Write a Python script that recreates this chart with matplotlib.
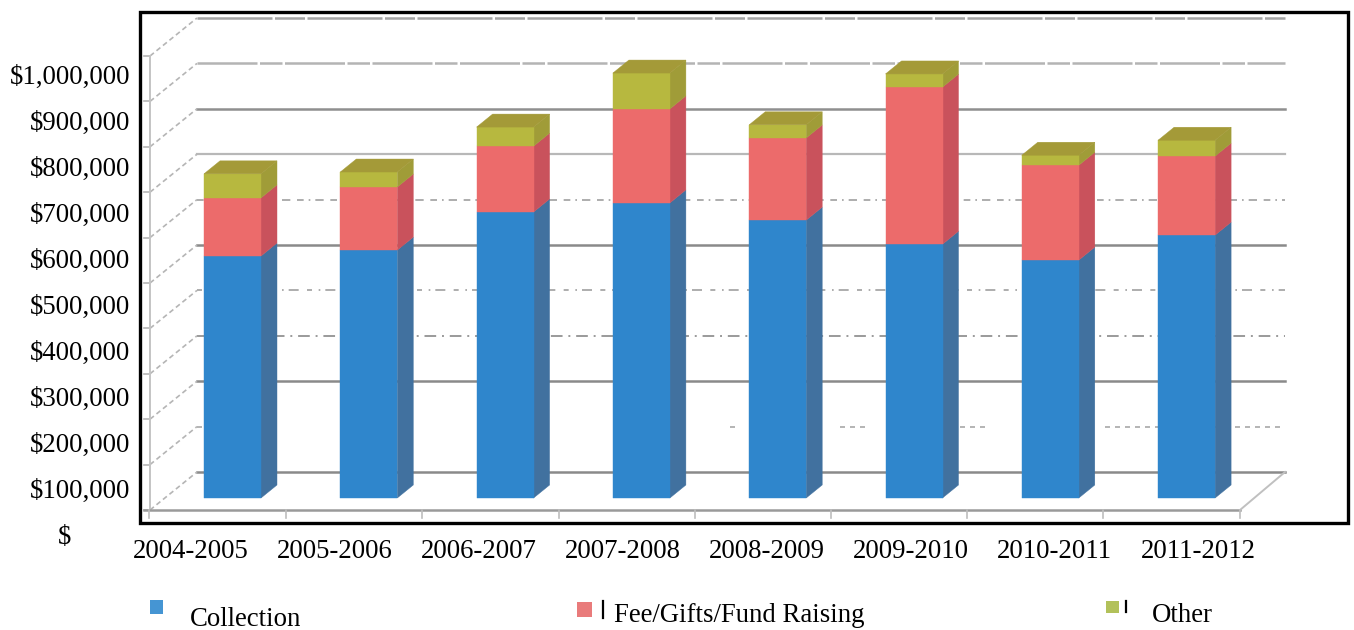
import matplotlib
matplotlib.use("Agg")
import matplotlib.pyplot as plt
from matplotlib.patches import Polygon, Rectangle

plt.rcParams['font.family'] = ['Liberation Serif', 'DejaVu Serif']

# === Data ===
years = ["2004-2005", "2005-2006", "2006-2007", "2007-2008",
         "2008-2009", "2009-2010", "2010-2011", "2011-2012"]
collection = [533000, 546000, 630000, 650000, 612000, 559000, 524000, 579000]
fees = [128000, 139000, 145000, 207000, 181000, 346000, 209000, 174000]
other = [53000, 33000, 42000, 79000, 29000, 29000, 22000, 35000]
value_labels = ["$", "$100,000", "$200,000", "$300,000", "$400,000", "$500,000",
                "$600,000", "$700,000", "$800,000", "$900,000", "$1,000,000"]
grid_levels = list(range(0, 1100000, 100000))
legend_names = ["Collection", "Fee/Gifts/Fund Raising", "Other"]

# === Colours ===
front = ["#2f86cc", "#ec6b6b", "#b7b83f"]
side = ["#41719f", "#c9525c", "#a09c38"]
top_colour = "#a49a38"
legend_colours = ["#4595d3", "#e97b7b", "#b2c15a"]

# === Geometry, in picture pixels ===
W, H = 1354, 630
PX_PER_VALUE = 45.4 / 100000
BASE_Y = 498       # where a value of 0 sits on the bars' front face
BAR_STEP = 136.3
BAR_LEFT = 204
BAR_W = 57
DEPTH_X, DEPTH_Y = 16, 13


# x is in category units and y in dollars, so the figure-wide axes does the scaling
def px_x(px):
    return (px - BAR_LEFT - BAR_W / 2) / BAR_STEP


def px_y(py):
    return (BASE_Y - py) / PX_PER_VALUE


fig = plt.figure(figsize=(W / 100, H / 100), dpi=100)
ax = fig.add_axes([0, 0, 1, 1])
ax.set_xlim(px_x(0), px_x(W))
ax.set_ylim(px_y(H), px_y(0))
ax.axis("off")

half_w = BAR_W / 2 / BAR_STEP
dx = DEPTH_X / BAR_STEP
dy = DEPTH_Y / PX_PER_VALUE
font = 19.3

# === Outer frame ===
ax.add_patch(Rectangle((px_x(140), px_y(523)), px_x(1348) - px_x(140), px_y(12) - px_y(523),
                       fill=False, ec="black", lw=2.4, zorder=6))

# === Walls and floor ===
WALL_X, WALL_Y0 = 150, 510
BACK_X, BACK_Y0, BACK_END = 197, 472, 1285
FRONT_END = 1240
# the scan left the back gridlines patchy, so each level gets its own look
grid_colour = ["#8a8a8a", "#a8a8a8", "#8a8a8a", "#9a9a9a", "#a0a0a0", "#8a8a8a",
               "#a0a0a0", "#b8b8b8", "#8f8f8f", "#b4b4b4", "#a4a4a4"]
grid_width = [1.8, 1.2, 1.8, 1.4, 1.2, 1.8, 1.2, 1.6, 1.8, 1.8, 1.8]
grid_style = ["-", "-", "-", (0, (6, 3, 1, 3)), (0, (3, 4, 1, 3, 6, 5)), "-",
              (0, (4, 3, 1, 3, 5, 4)), "-", "-", (0, (24, 1, 9, 1)), (0, (30, 1, 12, 1))]
sparse_spans = [(197, 204), (730, 740), (840, 870), (950, 990), (1105, 1285)]  # $100,000 line
for k, level in enumerate(grid_levels):
    back_y = px_y(BACK_Y0) + level
    front_y = px_y(WALL_Y0) + level
    spans = sparse_spans if k == 1 else [(BACK_X, BACK_END)]
    for x0, x1 in spans:
        ax.plot([px_x(x0), px_x(x1)], [back_y, back_y], color=grid_colour[k], lw=grid_width[k],
                ls=(0, (3, 3)) if k == 1 else grid_style[k], zorder=1)
    ax.plot([px_x(WALL_X), px_x(BACK_X)], [front_y, back_y], color="#b5b5b5", lw=1.2,
            ls=(0, (3, 2)), zorder=1)
    ax.plot([px_x(WALL_X - 6), px_x(WALL_X)], [front_y, front_y], color="#b5b5b5", lw=1.2, zorder=1)

ax.plot([px_x(WALL_X)] * 2, [px_y(WALL_Y0), px_y(WALL_Y0) + grid_levels[-1]], color="#c4c4c4", lw=1.4, zorder=1)
ax.plot([px_x(WALL_X - 6), px_x(FRONT_END)], [px_y(WALL_Y0)] * 2, color="#9a9a9a", lw=1.8, zorder=2)
ax.plot([px_x(FRONT_END), px_x(BACK_END)], [px_y(WALL_Y0), px_y(BACK_Y0)], color="#c0c0c0", lw=1.4, zorder=2)
for i in range(9):
    tick_x = px_x(WALL_X + (i * 136.2 if i else -1))
    ax.plot([tick_x, tick_x], [px_y(WALL_Y0), px_y(518)], color="#bdbdbd", lw=1.2, zorder=2)

# === Stacked 3D bars ===
for i in range(len(years)):
    x0, x1 = i - half_w, i + half_w
    bottom = 0
    for j, values in enumerate([collection, fees, other]):
        top = bottom + values[i]
        ax.add_patch(Polygon([(x1, bottom), (x1 + dx, bottom + dy), (x1 + dx, top + dy), (x1, top)],
                             fc=side[j], ec=side[j], lw=0.3, zorder=3))
        ax.add_patch(Rectangle((x0, bottom), x1 - x0, top - bottom, fc=front[j], ec=front[j], lw=0.3, zorder=4))
        bottom = top
    ax.add_patch(Polygon([(x0, bottom), (x0 + dx, bottom + dy), (x1 + dx, bottom + dy), (x1, bottom)],
                         fc=top_colour, ec=top_colour, lw=0.3, zorder=4))

# === Text ===
for i, label in enumerate(value_labels):
    y_pos = px_y(537.5 - i * 46)
    if i == 0:
        ax.text(px_x(58), y_pos, label, fontsize=font, ha="left", va="center")
    else:
        ax.text(px_x(130), y_pos, label, fontsize=font, ha="right", va="center")

for i, label in enumerate(years):
    ax.text(px_x(190.5 + i * 144), px_y(551), label, fontsize=font, ha="center", va="center")

# === Hand-placed legend ===
legend_boxes = [(150, 600, 13, 14), (577, 602, 15, 15), (1106, 601, 13, 12)]
legend_text = [(190, 620), (614, 615), (1152, 615)]
for name, colour, box, pos in zip(legend_names, legend_colours, legend_boxes, legend_text):
    bx, by, bw, bh = box
    ax.add_patch(Rectangle((px_x(bx), px_y(by + bh)), bw / BAR_STEP, bh / PX_PER_VALUE, fc=colour, ec="none"))
    ax.text(px_x(pos[0]), px_y(pos[1]), name, fontsize=font, ha="left", va="center")
for stub_x, y0, y1 in [(603, 601, 618), (1126, 601, 612)]:
    ax.plot([px_x(stub_x)] * 2, [px_y(y0), px_y(y1)], color="black", lw=1.6)

fig.savefig("out.png", dpi=100)
